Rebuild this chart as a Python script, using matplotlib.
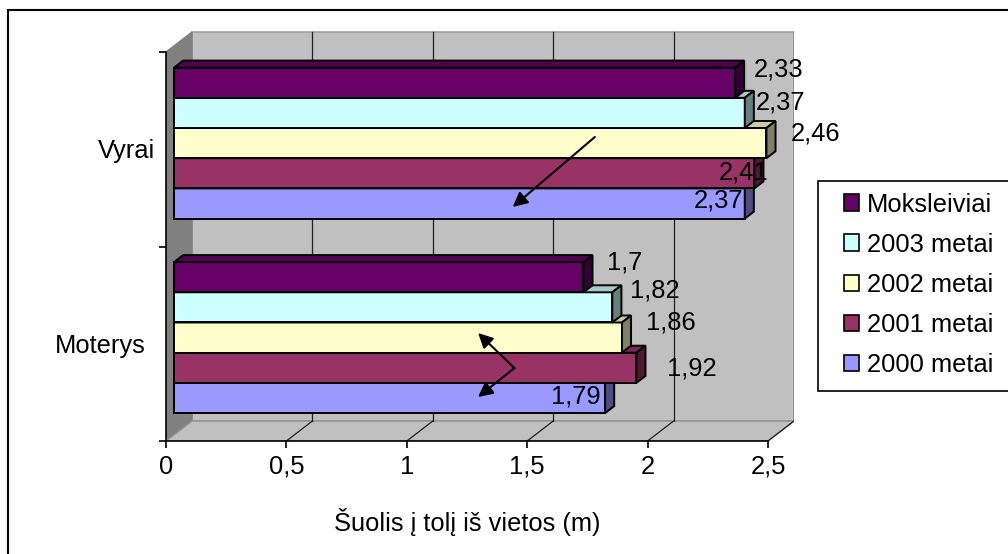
import matplotlib
matplotlib.use('Agg')
import matplotlib.pyplot as plt
from matplotlib.patches import Polygon, Rectangle, Patch
import matplotlib.colors as mcolors
import numpy as np

# ---------------- data ----------------
categories = ['Moterys', 'Vyrai']
series = ['Moksleiviai', '2003 metai', '2002 metai', '2001 metai', '2000 metai']
values_moterys = [1.70, 1.82, 1.86, 1.92, 1.79]
values_vyrai = [2.33, 2.37, 2.46, 2.41, 2.37]
labels_moterys = ['1,7', '1,82', '1,86', '1,92', '1,79']
labels_vyrai = ['2,33', '2,37', '2,46', '2,41', '2,37']
xticks = [0, 0.5, 1, 1.5, 2, 2.5]
xticklabels = ['0', '0,5', '1', '1,5', '2', '2,5']
xlabel_text = 'Šuolis į tolį iš vietos (m)'

# ---------------- style ----------------
colors = ['#660066', '#CCFFFF', '#FFFFCC', '#993366', '#9999FF']
FONT = 'Liberation Sans'
FS = 18.4
plt.rcParams['font.family'] = [FONT, 'DejaVu Sans']

W, H = 1008, 554
fig = plt.figure(figsize=(W / 100, H / 100), dpi=100)
fig.patch.set_facecolor('white')

PX_X = 240.8   # pixels per x unit
PX_Y = 194.5   # pixels per category unit
X0, Y0 = 166, 441
XMAX, YMAX = 2.61, 2.11
ax = fig.add_axes([X0 / W, (H - Y0) / H, XMAX * PX_X / W, YMAX * PX_Y / H])
ax.set_xlim(0, XMAX)
ax.set_ylim(0, YMAX)
ax.patch.set_visible(False)

DX = 26 / PX_X
DY = 20 / PX_Y
D0, D1 = 0.31, 0.66


def P(x, y, d):
    return (x + DX * d, y + DY * d)


# walls
ax.add_patch(Polygon([P(0, 0, 1), P(2.5, 0, 1), P(2.5, 2, 1), P(0, 2, 1)],
                     closed=True, facecolor='#C0C0C0', edgecolor='#A0A0A0', lw=1.2, zorder=0))
ax.add_patch(Polygon([P(0, 0, 0), P(0, 2, 0), P(0, 2, 1), P(0, 0, 1)],
                     closed=True, facecolor='#808080', edgecolor='#808080', lw=1, zorder=0.5))
ax.add_patch(Polygon([P(0, 0, 0), P(2.5, 0, 0), P(2.5, 0, 1), P(0, 0, 1)],
                     closed=True, facecolor='#C0C0C0', edgecolor='#909090', lw=1, zorder=0.5))
for xv in xticks[1:]:
    ax.plot([P(xv, 0, 1)[0], P(xv, 2, 1)[0]], [P(xv, 0, 1)[1], P(xv, 2, 1)[1]],
            color='#202020', lw=0.9, zorder=1)
    ax.plot([P(xv, 0, 0)[0], P(xv, 0, 1)[0]], [P(xv, 0, 0)[1], P(xv, 0, 1)[1]],
            color='#202020', lw=0.9, zorder=1)

# bars
values = [values_moterys, values_vyrai]
labels = [labels_moterys, labels_vyrai]
half = 0.388
bh = 0.1553
ycent = np.arange(len(categories)) + 0.5

lbl_dx = [[24, 18, 24, 31, -54], [19, 11, 24, -36, -51]]
lbl_dy = [[-15, -17, -15, 1, -2], [-13, -10, -10, -1, -3]]

for i in reversed(range(len(series))):
    z = 3 + (len(series) - i)
    base = mcolors.to_rgb(colors[i])
    topc = tuple(c * 0.8 for c in base)
    sidec = tuple(c * 0.5 for c in base)
    tops = ycent + half - i * bh
    vals = [values[c][i] for c in range(len(categories))]
    ax.barh(tops - bh / 2 + DY * D0, vals, height=bh, left=DX * D0,
            color=colors[i], edgecolor='black', lw=1.4, zorder=z)
    for c in range(len(categories)):
        v = vals[c]
        top = tops[c]
        bot = top - bh
        ax.add_patch(Polygon([P(0, top, D0), P(v, top, D0), P(v, top, D1), P(0, top, D1)],
                             closed=True, facecolor=topc, edgecolor='black', lw=1.4, zorder=z))
        ax.add_patch(Polygon([P(v, bot, D0), P(v, top, D0), P(v, top, D1), P(v, bot, D1)],
                             closed=True, facecolor=sidec, edgecolor='black', lw=1.4, zorder=z))

# data labels
for c in range(len(categories)):
    for i in range(len(series)):
        top = ycent[c] + half - i * bh
        xy = P(values[c][i], top - bh / 2, D0)
        ax.annotate(labels[c][i], xy=xy, xycoords='data',
                    xytext=(lbl_dx[c][i], -lbl_dy[c][i]), textcoords='offset pixels',
                    ha='left', va='center', fontsize=FS, color='black', zorder=20,
                    annotation_clip=False)

# axes / ticks
for s in ['top', 'right']:
    ax.spines[s].set_visible(False)
ax.spines['left'].set_bounds(0, 2)
ax.spines['bottom'].set_bounds(0, 2.5)
for s in ['left', 'bottom']:
    ax.spines[s].set_color('black')
    ax.spines[s].set_linewidth(1.2)
    ax.spines[s].set_zorder(2)
ax.set_yticks([0, 1, 2])
ax.set_yticklabels([])
ax.set_xticks(xticks)
ax.set_xticklabels(xticklabels, fontsize=FS)
ax.tick_params(axis='both', direction='out', length=5, width=1.2, color='black')
ax.tick_params(axis='x', pad=5)

cat_dx = [-20, -11]
for c, name in enumerate(categories):
    ax.annotate(name, xy=(0, ycent[c]), xycoords='data',
                xytext=(cat_dx[c], -2), textcoords='offset pixels',
                ha='right', va='center', fontsize=FS, annotation_clip=False)

ax.annotate(xlabel_text, xy=(1.25, 0), xycoords='data', xytext=(0, -81),
            textcoords='offset pixels', ha='center', va='center', fontsize=FS,
            annotation_clip=False)

# arrows
arrow_kw = dict(arrowstyle='-|>', color='black', lw=1.5, mutation_scale=22,
                shrinkA=0, shrinkB=0)
ax.annotate('', xy=(1.440, 1.203), xytext=(1.781, 1.563), arrowprops=arrow_kw, zorder=25)
ax.annotate('', xy=(1.296, 0.555), xytext=(1.447, 0.375), arrowprops=arrow_kw, zorder=25)
ax.annotate('', xy=(1.296, 0.226), xytext=(1.447, 0.375), arrowprops=arrow_kw, zorder=25)

# legend (frame drawn separately; it runs past the right edge of the picture)
ax.add_patch(Rectangle((818 / W, 1 - 391 / H), 0.3, (391 - 181) / H,
                       transform=fig.transFigure, facecolor='white',
                       edgecolor='black', lw=1.2, zorder=29, clip_on=False))
handles = [Patch(facecolor=colors[i], edgecolor='black', lw=1.2) for i in range(len(series))]
leg = ax.legend(handles, series, loc='upper left',
                bbox_to_anchor=(832 / W, 1 - 181 / H), bbox_transform=fig.transFigure,
                frameon=False, fontsize=FS, borderpad=0.45, labelspacing=0.63,
                handlelength=0.62, handleheight=0.6, handletextpad=0.3,
                borderaxespad=0)
leg.set_zorder(30)

# outer frame (right/bottom outside the picture)
fig.patches.append(Rectangle((8 / W, -0.1), 1.2, 1.1 - 10 / H, transform=fig.transFigure,
                             fill=False, edgecolor='black', lw=1.5))

fig.savefig('out.png', dpi=100)
